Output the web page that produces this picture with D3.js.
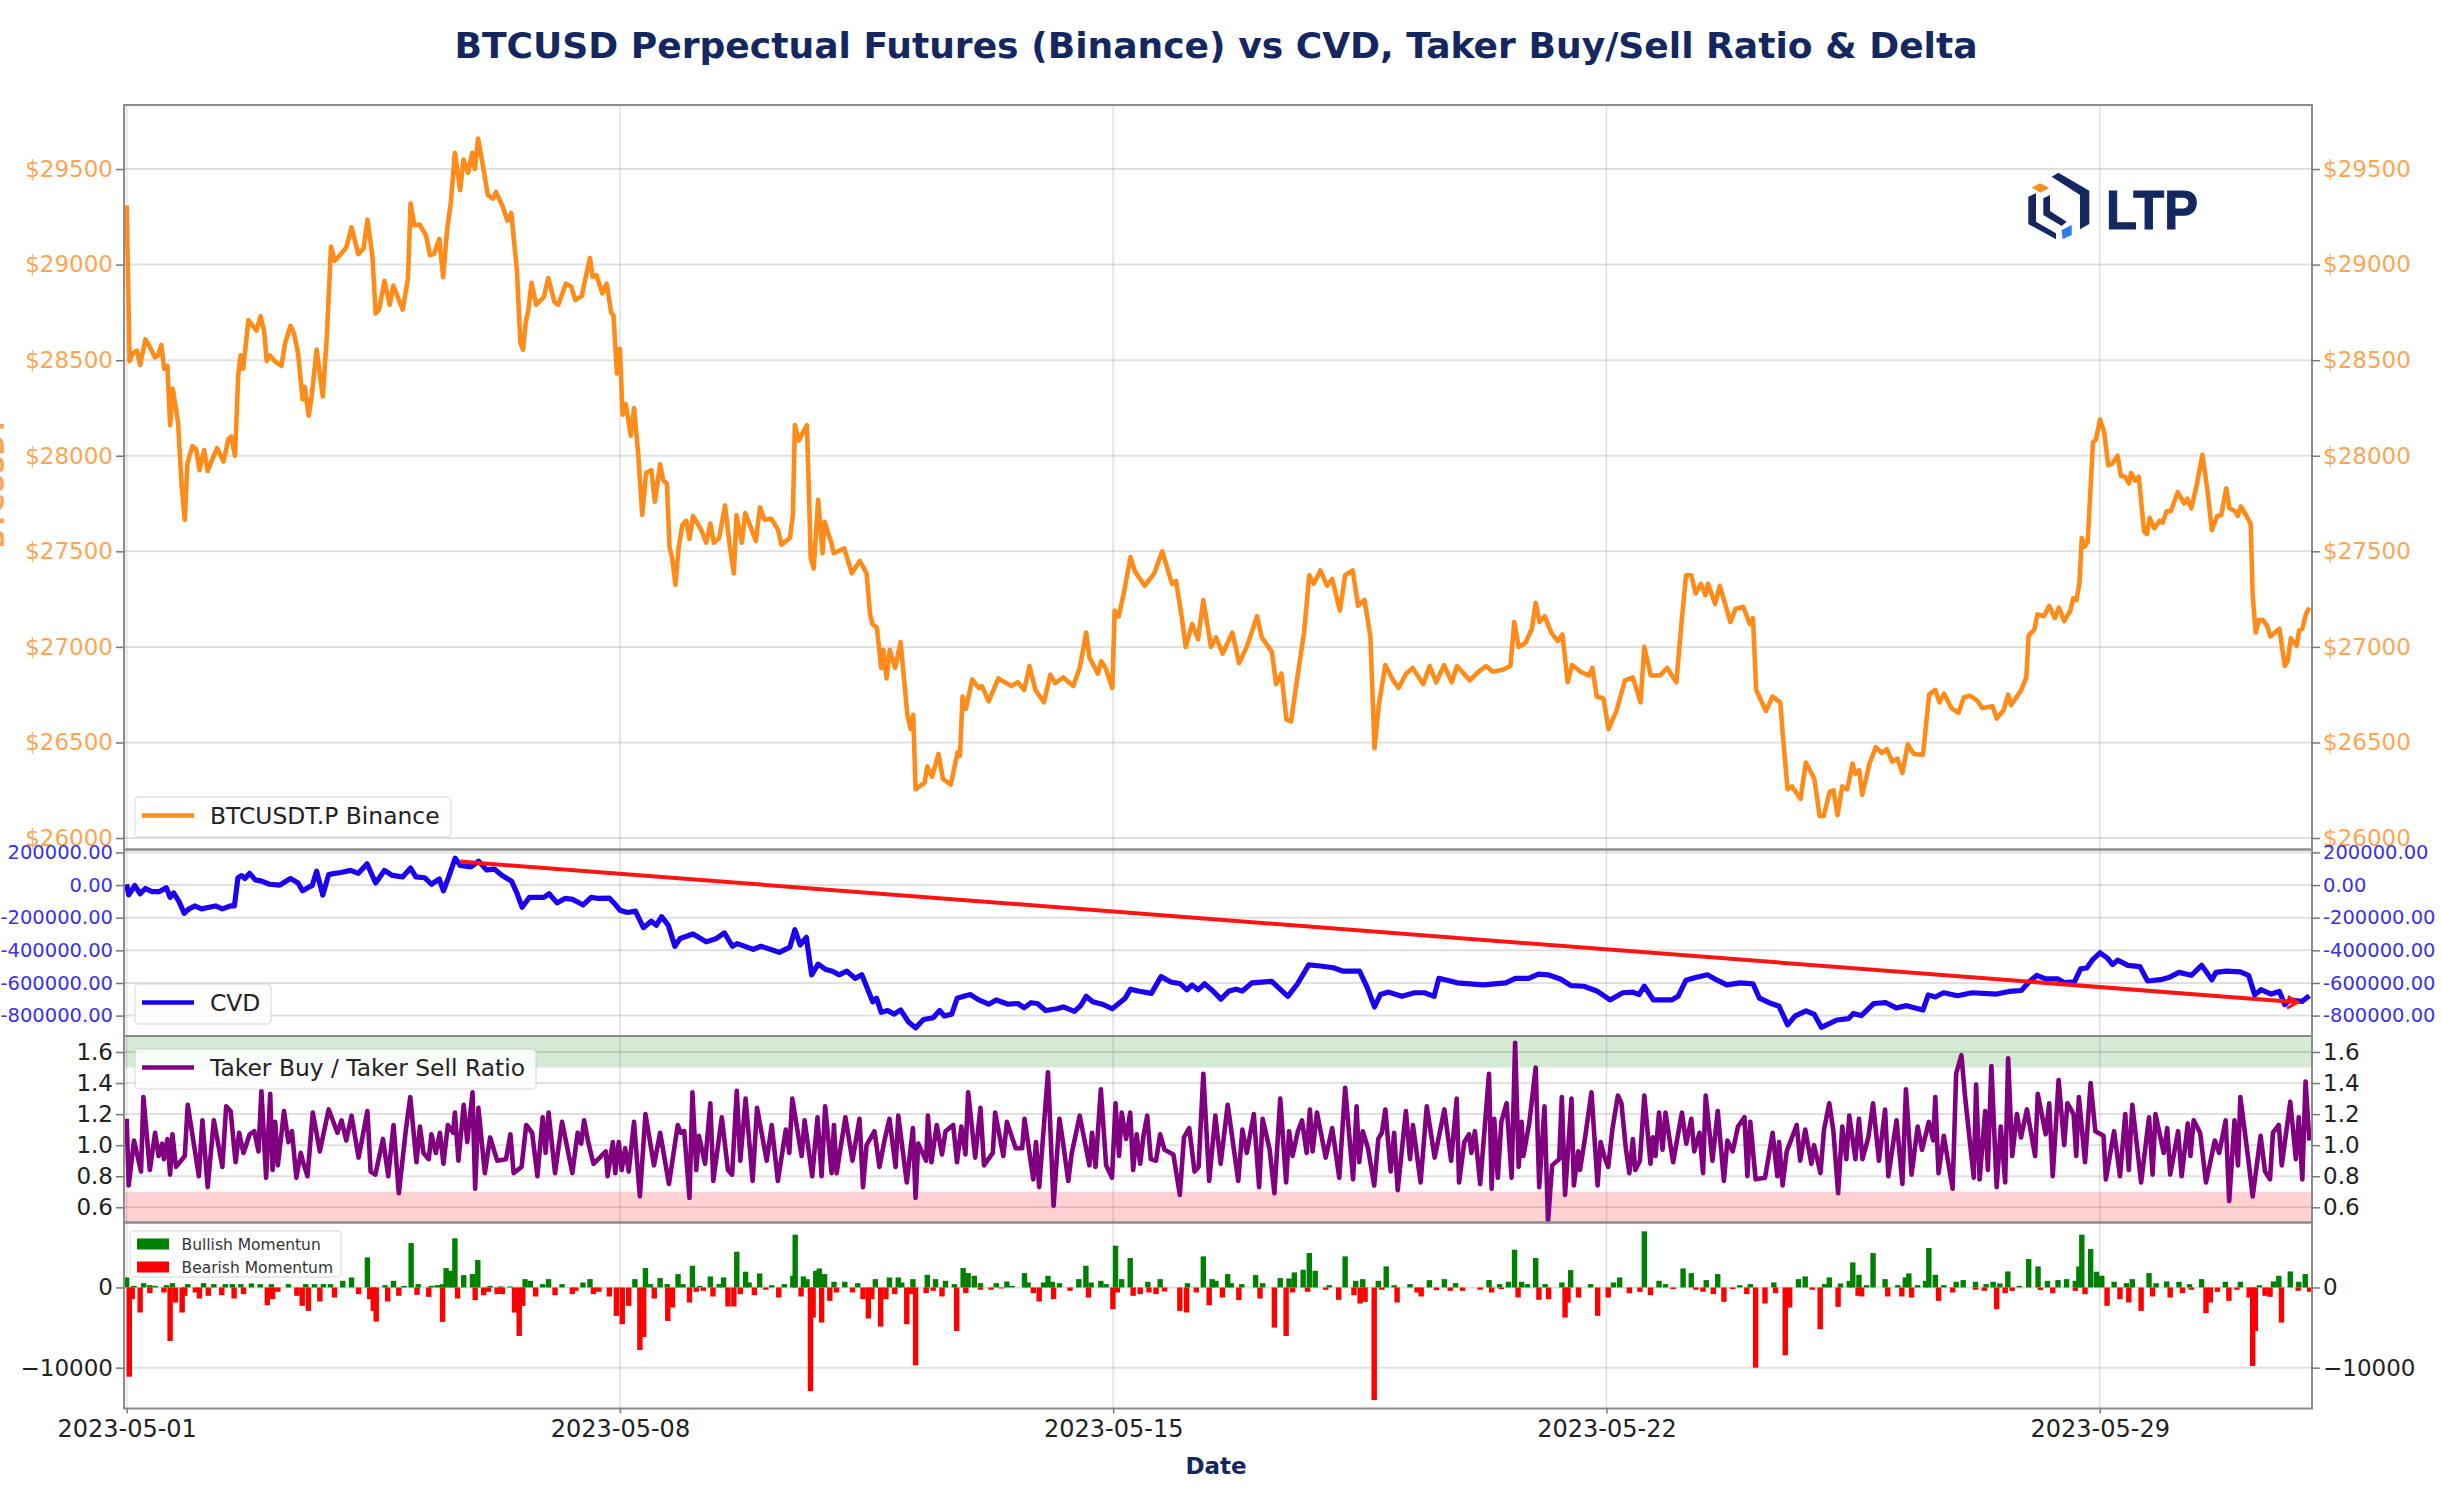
<!DOCTYPE html>
<html>
<head>
<meta charset="utf-8">
<script src="https://cdn.jsdelivr.net/npm/d3@7"></script>
<style>
  html, body { margin: 0; padding: 0; background: #fff; }
  svg { display: block; font-family: "DejaVu Sans", sans-serif; }
</style>
</head>
<body>
<svg id="chart" width="2442" height="1512"></svg>
<script>
// -------------------- Data --------------------
// every reading is [hours since 2023-05-01 00:00, value]
const priceReadings = [
  [0,29310],[1,28495],[2,28535],[3.5,28550],[4.6,28475],[6.4,28610],[8.2,28560],[9.6,28515],[10.7,28525],[11.8,28580],
  [12.8,28455],[13.9,28470],[14.8,28160],[15.7,28350],[17.5,28175],[18.7,27850],[19.8,27665],[20.7,27960],[22.4,28050],[23.7,28035],
  [24.8,27925],[26.4,28030],[27.6,27920],[29,27975],[30.8,28040],[33,27970],[34.6,28085],[35.6,28100],[36.9,28000],[38,28420],
  [38.8,28525],[39.7,28455],[41.5,28710],[44.2,28655],[45.6,28730],[46.8,28655],[47.7,28495],[48.8,28525],[50.4,28495],[52.7,28470],
  [54,28590],[55.8,28680],[57,28640],[58.4,28535],[59.9,28295],[60.7,28360],[62,28210],[63,28310],[64.7,28555],[66.8,28310],
  [68.2,28630],[69.6,29095],[70.9,29020],[72.7,29050],[74.8,29090],[76.6,29195],[78.9,29055],[80.7,29085],[82,29235],[83.7,29045],
  [84.8,28745],[86,28765],[87.8,28915],[89.6,28790],[90.8,28890],[94,28765],[95.8,28925],[96.7,29320],[98,29205],[99.8,29210],
  [102,29150],[103.3,29050],[104.7,29055],[106.5,29135],[107.8,28935],[109.2,29190],[110.4,29325],[111.8,29585],[113.6,29390],[114.7,29550],
  [116.3,29480],[117.7,29585],[118.6,29500],[119.7,29660],[121.7,29485],[123,29365],[124.7,29345],[125.8,29380],[127.9,29310],[129.7,29230],
  [131,29270],[132.9,28975],[134.1,28590],[135,28555],[135.9,28695],[136.8,28760],[137.9,28905],[139.5,28790],[142.1,28830],[143.6,28930],
  [145.7,28805],[147,28790],[149.6,28900],[151.4,28885],[152.8,28815],[155,28835],[156,28910],[157.8,29035],[158.7,28935],[160,28945],
  [162,28850],[163.5,28900],[165,28750],[165.8,28735],[167,28430],[168,28560],[168.9,28215],[170,28270],[171.7,28105],[172.8,28250],
  [174.2,28015],[175.6,27690],[176.9,27910],[178.7,27925],[179.9,27760],[181.7,27955],[182.8,27870],[184,27855],[184.9,27520],[185.8,27465],
  [186.9,27325],[188,27520],[189.3,27640],[190.6,27660],[191.7,27565],[192.9,27685],[195.6,27615],[197.4,27545],[198.8,27645],[200,27545],
  [201.8,27570],[203.8,27740],[205.4,27530],[206.8,27385],[207.7,27690],[209.5,27545],[210.7,27700],[214.3,27555],[215.7,27730],[217.3,27665],
  [219.6,27670],[221.8,27615],[223,27535],[225.9,27570],[226.9,27690],[227.6,28160],[228.9,28080],[231.7,28160],[233,27465],[234,27410],
  [235.5,27770],[237,27490],[237.7,27655],[240,27545],[240.8,27490],[244.4,27515],[247,27385],[249.7,27450],[252,27385],[253.2,27170],
  [254,27120],[255.5,27100],[257,26890],[257.7,26985],[258.8,26835],[259.9,26985],[261.7,26890],[263.6,27025],[265.9,26645],[267,26570],
  [267.9,26645],[268.7,26255],[271.8,26290],[272.7,26375],[274.3,26320],[276.5,26440],[278,26310],[280.7,26280],[283,26450],[283.8,26430],
  [284.7,26740],[285.8,26675],[288,26830],[290.2,26785],[291.3,26795],[293.6,26715],[296.9,26835],[301.3,26795],[303.5,26815],[305.7,26775],
  [307.5,26900],[309.5,26775],[312.4,26710],[314.6,26855],[316.2,26810],[319,26840],[322.4,26795],[324.6,26890],[326.8,27075],[327.9,26945],
  [330.8,26860],[331.9,26925],[333.4,26890],[335.7,26785],[336.5,27190],[337.9,27160],[339.6,27280],[341.9,27470],[343.4,27395],[346.7,27320],
  [350,27385],[352.7,27500],[354.5,27410],[356,27330],[357.4,27345],[359.4,27150],[360.7,27000],[362.9,27120],[364.9,27040],[366.7,27245],
  [369.3,27000],[371,27050],[373.3,26965],[376.6,27075],[378.9,26915],[381.5,27000],[385,27160],[386.6,27050],[390,26975],[391.5,26805],
  [393.3,26860],[395,26620],[396.6,26610],[398.1,26775],[401,27075],[402.8,27375],[404.3,27330],[406.6,27400],[408.8,27320],[410.6,27355],
  [413.2,27190],[415,27375],[417.6,27400],[419.4,27215],[421.6,27245],[423.6,27055],[425,26470],[426.5,26700],[428.7,26905],[431,26835],
  [433.2,26785],[435.8,26860],[438,26890],[441.6,26805],[443.8,26900],[446,26815],[448.7,26905],[451.3,26815],[453.1,26900],[457.5,26825],
  [459.7,26860],[463,26900],[465.3,26870],[468.6,26880],[471.3,26900],[472.6,27130],[474.1,27000],[476.4,27020],[478.6,27095],[479.9,27230],
  [481.2,27130],[483,27160],[485.2,27075],[487.4,27030],[489,27065],[490.8,26815],[492.3,26905],[495.2,26870],[498,26850],[499.2,26890],
  [500.7,26740],[503,26730],[504.7,26570],[507.4,26665],[510.3,26825],[513,26840],[515.6,26710],[516.9,27000],[519.1,26850],[522.2,26850],
  [524.7,26890],[527.8,26815],[529.5,27115],[531.1,27375],[532.9,27375],[534.4,27280],[536.2,27330],[537.7,27270],[538.6,27330],[541,27225],
  [542.6,27320],[546.2,27130],[548,27200],[550.6,27210],[552.8,27120],[553.9,27150],[555,26775],[558.3,26665],[560.6,26740],[563.2,26710],
  [564.3,26495],[565.7,26255],[567.2,26270],[570.1,26205],[571.9,26395],[574.8,26310],[576.6,26115],[578,26115],[580,26240],[581.3,26250],
  [582.7,26120],[584.3,26270],[586,26255],[587.8,26390],[588.7,26335],[590.1,26355],[591.1,26225],[593.6,26390],[595.7,26475],[597.8,26445],
  [599.5,26465],[601.3,26400],[603.1,26415],[604.8,26340],[606.6,26490],[608.7,26440],[611.8,26435],[613.9,26750],[616,26775],[617.4,26710],
  [619,26755],[621.5,26680],[623.9,26655],[625.7,26735],[627.8,26745],[630.2,26720],[632,26680],[635.5,26690],[636.9,26625],[639.3,26670],
  [640.8,26750],[641.8,26695],[645.3,26775],[647,26840],[647.8,27060],[649.7,27090],[650.8,27170],[653,27160],[654.8,27215],[656.7,27150],
  [658.1,27205],[659.9,27135],[662,27190],[663,27255],[664.1,27245],[665.1,27335],[665.9,27570],[666.9,27525],[667.9,27550],[669.7,28070],
  [670.7,28085],[672.1,28190],[673.5,28125],[674.9,27950],[676.3,27960],[678.1,28000],[679.2,27895],[680.6,27890],[682,27855],[682.7,27910],
  [684.1,27870],[685.3,27890],[687.1,27605],[688.1,27590],[689,27675],[690.6,27620],[692.4,27660],[693.4,27650],[694.8,27710],[696.2,27710],
  [698.6,27810],[700.8,27750],[701.8,27775],[703.2,27725],[705,27845],[707,28005],[708.8,27805],[710.2,27610],[712,27685],[713.4,27690],
  [715.1,27830],[716.2,27725],[718.1,27710],[719,27685],[720.1,27735],[721.8,27690],[723.4,27645],[724.1,27270],[725.1,27075],[726.2,27140],
  [727.6,27140],[729,27110],[730.1,27055],[733.2,27095],[735,26900],[736,26925],[737.1,27045],[739.1,27005],[739.9,27085],[741,27095],
  [742.3,27175],[743.4,27205]
];

// cumulative volume delta, in thousands
const cvdReadings = [
  [0,5],[0.7,-60],[2.8,-3],[4.6,-53],[6.4,-21],[8.6,-40],[11.2,-40],[13.5,-16],[14.8,-75],[16,-48],
  [17.8,-100],[19.6,-173],[21,-149],[23.2,-128],[25.5,-146],[28.1,-136],[30.3,-128],[32.6,-146],[35.3,-128],[36.7,-128],
  [37.9,45],[39.2,58],[40.3,40],[41.9,72],[43.8,32],[46,24],[48.6,5],[52.2,0],[55.8,40],[58.4,13],
  [59.9,-35],[62,-13],[63.2,-3],[64.7,85],[66.8,-61],[68.8,64],[70.9,72],[73,77],[76.2,90],[78.9,72],
  [81.9,130],[84.8,13],[87.8,90],[90.5,59],[94,50],[96.7,104],[98.5,50],[101.5,45],[103.8,5],[106.5,37],
  [107.9,-35],[109.7,50],[111.9,165],[113.6,120],[117.2,112],[119.9,146],[122.6,93],[125.2,98],[127.9,59],[131.1,24],
  [132.9,-48],[134.7,-136],[137.2,-75],[139.5,-75],[142.1,-75],[143.9,-53],[146.6,-109],[149.3,-82],[152,-88],[155.5,-122],
  [158.2,-75],[160.8,-82],[164.4,-80],[166.2,-114],[168,-154],[170.6,-168],[173.3,-160],[176,-261],[178.7,-221],[180.4,-247],
  [182.2,-194],[184.5,-247],[186.7,-375],[188.5,-327],[192.9,-300],[197.4,-348],[200.9,-327],[203.6,-293],[206.3,-375],[208,-359],
  [213.4,-394],[216,-375],[222.3,-412],[225.9,-380],[227.6,-274],[229.4,-367],[231.5,-320],[233.3,-550],[235.5,-485],[238.2,-518],
  [240.4,-528],[242.6,-550],[245.3,-528],[248.1,-572],[250.4,-550],[254.1,-715],[255.4,-693],[257,-780],[259.2,-769],[261.4,-791],
  [263.6,-765],[266.3,-839],[268.7,-875],[271.4,-824],[274.7,-813],[276.9,-769],[278.5,-802],[281,-791],[282.9,-693],[285.1,-682],
  [287.4,-671],[290.2,-704],[293.6,-730],[296.2,-704],[300.2,-730],[303.5,-726],[305.7,-752],[308,-721],[310.2,-726],[313,-769],
  [316.8,-758],[319,-747],[322.8,-774],[325,-737],[326.8,-682],[329,-715],[332.3,-730],[335.7,-758],[337.9,-726],[340.1,-693],
  [341.9,-638],[344.5,-649],[349,-664],[352.3,-561],[355.6,-594],[358.9,-605],[361.1,-642],[362.9,-612],[364.9,-642],[367.1,-605],
  [370,-649],[372.7,-699],[375.5,-649],[377.8,-638],[380,-649],[383.3,-599],[390,-590],[392.2,-627],[395.5,-682],[398.8,-605],
  [402.6,-489],[406.6,-496],[411,-507],[414.3,-528],[419.9,-528],[422.5,-627],[425,-747],[427,-671],[429.8,-656],[434.3,-682],
  [438.7,-660],[442,-660],[445.3,-682],[446.9,-572],[449.8,-583],[453.1,-599],[462,-612],[469.7,-599],[473,-572],[477.5,-572],
  [480.8,-546],[484.1,-550],[488.5,-577],[491.9,-616],[496.3,-620],[500.7,-649],[505.2,-704],[509.6,-660],[513,-656],[515.1,-671],
  [516.9,-620],[520,-704],[526.2,-704],[528.4,-682],[531.1,-583],[534,-568],[538.4,-550],[541.7,-583],[545,-612],[549.5,-599],
  [553.9,-605],[556.1,-693],[559.4,-721],[562.8,-743],[565.7,-857],[568.3,-802],[572,-771],[574.8,-793],[577.2,-872],[579.7,-851],
  [582.5,-827],[586.4,-819],[588.1,-787],[590.8,-800],[595,-726],[599.2,-721],[602.7,-753],[606.2,-739],[611.8,-766],[613.6,-673],
  [616,-686],[618.8,-660],[623.6,-678],[628.5,-660],[636.9,-668],[641.1,-652],[645.3,-646],[648,-593],[650.6,-553],[653.6,-575],
  [657.8,-575],[659.9,-598],[663.4,-593],[665.5,-513],[667.6,-508],[669.7,-455],[672.1,-415],[674.6,-447],[676.4,-487],[678.1,-460],
  [681.6,-492],[685.7,-500],[688.3,-588],[692.7,-580],[695.5,-567],[699,-535],[703.2,-553],[706.7,-492],[710.2,-580],[711.6,-535],
  [715.1,-527],[719.9,-532],[722.7,-553],[724.8,-673],[726.9,-641],[730.4,-668],[733.2,-652],[735,-732],[736.7,-705],[740.9,-713],
  [743.4,-678]
];

const trendLine = [[113.6,144],[739.5,-718]];

const ratioReadings = [
  [0,1.17],[0.7,0.74],[2.5,1.03],[4.9,0.83],[5.7,1.31],[7.9,0.84],[9.7,1.08],[10.9,0.93],[12.1,1.01],[12.7,0.91],
  [13.9,1.04],[14.8,0.81],[15.6,1.07],[16.8,0.86],[19.8,0.93],[20.8,1.26],[24.6,0.80],[25.8,1.16],[27.6,0.73],[29.7,1.16],
  [32.6,0.86],[33.9,1.25],[35.4,1.22],[37.1,0.89],[38.3,1.08],[39.8,0.95],[41.9,1.07],[43.5,1.09],[44.9,0.96],[45.9,1.35],
  [47.5,0.79],[48.9,1.33],[49.7,0.84],[50.6,1.15],[51.5,0.87],[53.6,1.22],[55.1,1.02],[56.3,1.09],[57.8,0.79],[59.3,0.95],
  [60.1,0.89],[61.6,0.80],[63.4,1.21],[65.8,0.96],[68.8,1.23],[71.8,1.08],[73.2,1.16],[74.8,1.03],[76.6,1.19],[79,0.92],
  [82,1.22],[83.1,0.83],[84.7,0.81],[87.3,1.04],[89.1,0.80],[90.9,1.13],[92.7,0.69],[95.1,1.10],[96.6,1.31],[98.7,0.89],
  [99.9,1.12],[101.1,0.95],[102.9,0.91],[103.8,1.07],[105.3,0.95],[106.7,1.08],[107.9,0.88],[109.4,1.13],[111.2,1.08],[111.8,1.21],
  [113,0.90],[114.8,1.26],[116,1.02],[117.8,1.34],[118.7,0.72],[119.8,1.24],[122,0.82],[123.8,1.05],[126.2,0.90],[129.2,0.91],
  [130.7,1.07],[131.8,0.82],[134.5,0.86],[136.1,1.13],[138.1,1.08],[139.9,0.80],[141.7,1.18],[142.7,0.95],[143.7,1.21],[145.9,0.82],
  [148.3,1.15],[151.8,0.82],[153.6,1.08],[154.8,1.01],[155.8,1.16],[157.2,1.02],[159,0.88],[163.2,0.96],[163.8,0.80],[165.6,1.02],
  [166.4,0.82],[167.6,1.02],[168.6,0.84],[169.8,0.98],[171,0.83],[172.8,1.15],[174.8,0.67],[176.7,1.20],[179.6,0.87],[181.7,1.08],
  [184.7,0.75],[187.7,1.13],[188.7,1.08],[189.9,1.09],[191.7,0.66],[192.7,1.34],[194,0.84],[194.9,1.06],[197,0.88],[198.8,1.27],
  [199.8,0.77],[202.7,1.18],[204.8,0.84],[206.2,0.81],[207.8,1.35],[209,0.90],[210.8,1.30],[213.2,0.77],[214.7,1.24],[218,0.90],
  [219.7,1.13],[221.8,0.77],[224.5,1.10],[225.7,0.95],[226.7,1.30],[229.9,0.93],[230.9,1.16],[233.5,0.80],[235.3,1.18],[236.7,0.80],
  [237.9,1.25],[240.1,0.82],[240.9,1.13],[241.8,0.82],[244.8,1.18],[247.2,0.90],[249.6,1.17],[250.8,0.73],[252,1.0],[254.7,1.09],
  [256.4,0.86],[258,1.02],[259.8,1.17],[261.9,0.86],[262.8,1.19],[265.7,0.76],[267.8,1.11],[268.7,0.66],[269.6,1.01],[272.3,0.90],
  [272.9,1.19],[274.1,0.89],[275.9,1.13],[277.7,0.94],[278.9,1.09],[281.5,1.13],[282.8,0.89],[284.3,1.12],[285.7,0.94],[286.6,1.34],
  [289,0.92],[290.8,1.24],[292,0.87],[295,0.95],[295.8,1.21],[298.6,0.93],[299.8,1.15],[302.8,0.98],[305,0.98],[305.8,1.17],
  [308.8,0.78],[309.7,1.02],[310.8,0.73],[313.8,1.47],[315.7,0.61],[317.7,1.17],[318.9,1.02],[320.7,0.77],[321.9,0.95],[324.6,1.19],
  [327.9,0.87],[328.8,1.08],[330,0.86],[331.8,1.36],[333.6,0.87],[335.6,0.79],[336.8,1.27],[338,0.93],[338.9,1.21],[340.4,1.04],
  [341.8,1.21],[342.8,0.84],[344,1.07],[345.2,0.88],[346.4,1.07],[347.6,1.19],[348.8,0.91],[350.6,0.90],[352,1.07],[353.5,0.97],
  [356.5,0.94],[358.7,0.68],[360.1,1.05],[361.9,1.11],[363.7,0.83],[365.1,0.86],[366.7,1.46],[368.7,0.77],[370.8,1.19],[372.6,0.88],
  [375,1.26],[378.6,0.77],[380,1.10],[381.5,0.95],[383.9,1.20],[385.7,0.73],[386.9,1.17],[389.3,0.97],[390.9,0.69],[392.9,1.30],
  [394.9,0.76],[395.9,1.09],[397.1,0.93],[398.9,1.09],[400.3,1.16],[401.9,0.95],[403,1.23],[403.9,0.96],[405.4,1.21],[408.4,0.92],
  [410.6,1.11],[413,0.79],[415,1.37],[417.7,0.78],[418.9,1.25],[419.8,0.89],[421,1.09],[422.8,0.98],[424.9,0.74],[426.3,1.04],
  [427.5,1.08],[428.7,1.23],[430.5,0.83],[431.7,1.08],[432.9,0.71],[435.7,1.22],[437.1,0.91],[438.1,1.13],[440.7,0.76],[442.8,1.25],
  [445.5,0.92],[448.8,1.23],[451.1,0.90],[453,1.30],[453.8,0.76],[455.6,1.02],[457.2,1.07],[458,0.95],[459.2,1.09],[461,0.75],
  [464,1.46],[464.9,0.72],[465.8,1.17],[467,0.79],[468.2,1.15],[470,1.27],[471.7,0.79],[472.9,1.66],[474.1,0.86],[475.1,1.15],
  [475.7,0.93],[477.7,1.14],[479.9,1.50],[481.1,0.73],[482.9,1.25],[484.1,0.51],[485.5,0.87],[487.9,0.91],[488.8,1.31],[489.9,0.68],
  [492.1,1.30],[492.9,0.74],[494.4,0.96],[495,0.84],[496.8,1.06],[498.9,1.34],[501,0.74],[502,1.02],[503.4,0.92],[504.6,0.86],
  [506,1.10],[507.9,1.32],[509.1,1.27],[510.6,0.98],[511.8,0.82],[513,1.04],[513.8,0.84],[515.4,0.90],[516.9,1.32],[519,0.88],
  [519.8,1.05],[520.7,0.93],[521.9,1.21],[523.1,0.97],[524.1,1.21],[526.7,0.89],[529.7,1.21],[531.2,1.01],[532.9,1.17],[533.9,0.96],
  [535.7,1.08],[536.9,0.82],[537.8,1.32],[540.1,0.90],[541.9,1.22],[544,0.77],[545.2,1.03],[547,0.96],[548.8,1.12],[551,1.18],
  [552,0.80],[553,1.15],[554.8,0.78],[558,0.79],[560.6,1.08],[562.2,0.80],[562.8,1.02],[564,0.74],[565.4,0.96],[568.8,1.13],
  [570,0.90],[571.7,1.10],[573.8,0.88],[574.7,1.0],[576.9,0.82],[578.1,1.10],[579.9,1.27],[581.3,1.09],[582.9,0.69],[584.3,1.12],
  [585.7,0.91],[586.7,1.19],[588.8,0.91],[590,1.17],[591.2,0.91],[593.2,1.05],[594.8,1.27],[596.8,0.90],[598.9,1.23],[600,0.80],
  [602.8,1.16],[604.8,0.75],[606,1.36],[607.9,0.81],[610,1.12],[611.5,0.97],[613.8,1.15],[615.3,1.03],[616,1.31],[617.1,0.82],
  [618.9,1.06],[621.9,0.72],[623.1,1.46],[624.9,1.58],[626.1,1.32],[629.1,0.79],[629.9,1.39],[631.1,0.78],[633,1.22],[633.9,0.84],
  [635.1,1.51],[636.9,0.73],[638.3,1.12],[639.8,0.76],[640.8,1.56],[642.2,0.93],[643.8,1.20],[645.2,1.05],[647.2,1.23],[650,0.93],
  [650.9,1.33],[653.6,1.07],[654.8,1.27],[656,0.80],[658,1.42],[659.9,1.0],[661,1.27],[663.1,1.2],[664,0.93],[664.9,1.31],
  [667,0.89],[668.9,1.40],[670.5,1.09],[673.3,1.06],[674.1,0.78],[676.9,1.09],[678.9,0.80],[680.7,1.20],[681.9,0.84],[683.1,1.26],
  [686.1,0.76],[688.8,1.18],[690,0.81],[691,1.20],[693.8,0.95],[695,1.11],[696,0.81],[698.7,1.09],[699.9,0.80],[702,1.14],
  [702.9,0.93],[704,1.16],[706.2,1.08],[708.2,0.76],[711.2,1.03],[712.7,0.95],[714.9,1.16],[716.1,0.64],[717.9,1.16],[719.1,0.87],
  [719.9,1.31],[722.6,0.91],[724.1,0.67],[726.8,1.06],[728.3,0.83],[730,0.78],[731,1.08],[733,1.13],[734,0.87],[736.9,1.28],
  [738.8,0.91],[739.8,1.18],[741,0.78],[742.1,1.41],[743.4,1.03]
];

const bullishBars = [
  [0,1250],[2.5,200],[5.8,540],[7.9,290],[9.7,200],[13.6,290],[15.6,540],[20.8,420],[26.2,540],[29.7,420],
  [33.6,420],[36,420],[38.9,420],[42.5,500],[45.5,420],[49.3,420],[55.1,420],[61,420],[64,420],[67,420],
  [69.4,420],[73.6,830],[76.6,1250],[82,3750],[88,290],[90.9,830],[94.5,200],[96.9,5540],[99.3,420],[103.8,200],
  [105.8,290],[107.6,420],[108.8,2420],[110.4,2080],[111.8,6130],[114.8,1540],[117.8,1670],[119.6,3420],[123.8,200],[127.4,125],
  [130.6,125],[135.7,1040],[137.5,830],[141.7,420],[143.7,1040],[148.3,420],[155.4,625],[157.8,1040],[173.1,1040],[176.7,2420],
  [178.4,420],[181.7,1170],[184.1,420],[187.8,1670],[189.5,420],[192.7,2710],[195.2,200],[198.8,1375],[201.8,420],[203.3,1250],
  [207.8,4460],[210.8,1960],[212,625],[215.6,1750],[219.7,290],[224,420],[226.9,1460],[227.7,6580],[230.5,1375],[231.7,1040],
  [234.7,2080],[235.9,2375],[237.7,1670],[240.9,710],[244.6,710],[249,540],[255,1040],[259.8,1250],[262.8,1250],[264,625],
  [267.8,1040],[272.7,1580],[275.5,1040],[278.9,830],[281.9,420],[284.9,2420],[286.6,1790],[288.7,1460],[290.8,540],[296.2,540],
  [299.8,750],[301.6,200],[305.8,1790],[307,625],[312.3,625],[313.8,1460],[315.3,710],[317.7,540],[324.3,1040],[326.7,2710],
  [328.5,625],[331.8,830],[333.6,420],[336.8,5210],[338.9,1040],[341.8,3670],[347.8,710],[352,1040],[361.3,540],[366.7,3875],
  [369.7,1040],[371,830],[375,1670],[376.2,540],[379.8,420],[384.5,1540],[386.9,540],[392.9,1170],[395.9,1125],[397.7,1875],
  [400.7,2210],[402.8,4290],[404.8,2080],[409.6,290],[415,3875],[418.6,830],[421,1040],[426.3,830],[429,2625],[431.7,290],
  [437.1,420],[443.7,920],[448.8,1040],[452.6,540],[464,920],[467.6,420],[470.6,710],[472.7,4710],[475.1,710],[477.1,420],
  [479.9,3670],[483.1,420],[488.8,625],[491.8,2170],[498.6,420],[506.4,625],[508.5,1250],[516.9,7000],[521.9,830],[524.1,420],
  [530.1,2375],[532.9,1790],[538,920],[541.9,1670],[549.4,290],[553,420],[561,625],[569.4,1040],[571.7,1375],[578.3,420],
  [579.9,1250],[583.7,500],[586.7,830],[587.9,3125],[590,1580],[592.6,290],[594.8,4290],[598.9,1040],[603.2,290],[605.8,1250],
  [607,1750],[610,290],[612.7,830],[613.8,4920],[616,1580],[618.9,290],[623.1,710],[625.5,920],[629.7,710],[633.3,420],
  [635.7,710],[638,500],[640.7,2000],[644.6,200],[647.8,3540],[651,2625],[654.2,830],[657.8,920],[660.7,1040],[663.7,830],
  [664.9,2625],[665.9,6580],[668.9,4790],[670.9,1960],[672.7,1460],[676.9,710],[681.1,540],[683.1,1040],[688.8,1790],[691.2,540],
  [694.8,750],[699,710],[702.6,420],[706.7,1040],[714.8,710],[719.9,710],[726.4,290],[731.2,750],[733,1460],[736.9,2000],
  [739.8,710],[742,1670]
];

const bearishBars = [
  [0.9,-11125],[1.9,-1460],[4.6,-3125],[7.9,-710],[12.7,-625],[14.8,-6670],[16.6,-1875],[18.9,-3125],[19.8,-1040],[23.4,-625],
  [24.8,-1375],[27.8,-1040],[32.4,-960],[36.6,-1375],[39.8,-830],[47.9,-2210],[49.7,-1460],[51.5,-540],[58,-1040],[59.8,-2290],
  [61.9,-2920],[65.8,-1750],[70.8,-1250],[79,-830],[82.8,-1460],[84,-2920],[85,-4250],[88.9,-1750],[92.7,-1040],[98.9,-920],
  [102.9,-1170],[107.6,-4290],[112.7,-1375],[118.7,-1580],[121.6,-960],[123.2,-540],[126.2,-830],[128,-830],[132.1,-3125],[133.7,-6040],
  [134.9,-2290],[139.3,-1125],[145.9,-960],[151.8,-830],[153,-420],[159,-830],[160.8,-540],[164.4,-1125],[166.8,-3540],[168.8,-4580],
  [171,-2290],[174.8,-7790],[176.1,-6170],[179.7,-1375],[184.3,-4170],[185.9,-2500],[191.7,-1875],[194,-540],[196.4,-420],[199.7,-1125],
  [204.8,-2375],[206.8,-2375],[209,-830],[213.8,-960],[217.7,-290],[222.1,-1250],[229.7,-1125],[232.9,-12920],[233.8,-3750],[236.7,-4375],
  [239.5,-1670],[241.8,-625],[247.2,-625],[250.8,-1460],[252.6,-3875],[253.8,-1460],[256.8,-4875],[258.6,-1460],[261.6,-830],[265.7,-4580],
  [266.9,-830],[268.7,-9710],[272.3,-710],[274.7,-420],[277.7,-1125],[282.7,-5420],[285.8,-710],[290.8,-290],[294.4,-290],[298,-125],
  [308.8,-710],[310.8,-1750],[315.7,-1460],[321.3,-420],[327.6,-1250],[335.9,-2710],[337.4,-625],[342.8,-1040],[345.2,-830],[348.2,-625],
  [350.6,-830],[353.5,-500],[358.7,-2920],[361,-3125],[364.3,-625],[368.7,-2210],[373.2,-1250],[378.8,-1580],[386,-1375],[390.9,-5000],
  [394.9,-6040],[397.1,-625],[402.2,-540],[408.4,-290],[412.8,-1540],[418,-960],[420.1,-2000],[421.8,-1790],[424.9,-14040],[427.5,-290],
  [432.7,-1875],[439.5,-625],[440.9,-1125],[446.1,-330],[450.8,-420],[455,-420],[461,-290],[464.9,-625],[468.2,-210],[473.9,-1250],
  [481,-1540],[484.3,-1460],[489.9,-3750],[490.9,-1875],[494.5,-1250],[501,-3540],[504.6,-1250],[511.8,-710],[515.4,-540],[519,-960],
  [526.7,-210],[534.5,-290],[536.9,-540],[540.4,-830],[544,-1790],[547,-210],[551.8,-830],[554.8,-10000],[558,-2000],[561.6,-710],
  [564.9,-8460],[566.4,-2500],[574.1,-290],[576.8,-5210],[582.9,-2420],[589.7,-1040],[590.9,-1125],[599.8,-1125],[604.6,-1125],[607.9,-1250],
  [617.1,-1670],[621.9,-625],[629.7,-290],[632.7,-420],[636.9,-2710],[639.8,-710],[642.2,-420],[651.8,-330],[656,-710],[663.7,-420],
  [667,-830],[674.5,-2290],[678.9,-1460],[681.9,-1875],[686.1,-2920],[690,-1125],[696,-1250],[700.2,-710],[703.2,-290],[708.2,-3210],
  [709.7,-1875],[712.1,-540],[716,-1670],[718.7,-290],[722.9,-1250],[724.1,-9790],[725,-5420],[728.3,-1040],[730,-1170],[733.9,-4375],
  [739.6,-420],[743.5,-540]
];

const dateTicks = ["2023-05-01", "2023-05-08", "2023-05-15", "2023-05-22", "2023-05-29"];
const priceTicks = [26000, 26500, 27000, 27500, 28000, 28500, 29000, 29500];
const cvdTicks = [-800000, -600000, -400000, -200000, 0, 200000];
const ratioTicks = [0.6, 0.8, 1.0, 1.2, 1.4, 1.6];
const deltaTicks = [-10000, 0];
const ratioBands = [[1.5, 1.7, "rgba(0,128,0,0.17)"], [0.5, 0.7, "rgba(255,0,0,0.18)"]];

const titleText = "BTCUSD Perpectual Futures (Binance) vs CVD, Taker Buy/Sell Ratio & Delta";
const navy = "#14285f";
const orange = "#ff8c1a";

// -------------------- Layout --------------------
const svg = d3.select("#chart");
const left = 124, right = 2312;
const startTime = Date.UTC(2023, 4, 1);
const toDate = h => new Date(startTime + h * 3600000);
const x = d3.scaleUtc().domain([toDate(-0.9), toDate(744.3)]).range([left, right]);

const yPrice = d3.scaleLinear().domain([25940, 29835]).range([849.5, 105]);
const yCvd = d3.scaleLinear().domain([-925000, 218000]).range([1036, 849.5]);
const yRatio = d3.scaleLinear().domain([0.502, 1.703]).range([1222.5, 1036]);
const yDelta = d3.scaleLinear().domain([-15090, 8100]).range([1408.5, 1222.5]);

const panels = [
  { y: yPrice, ticks: priceTicks, fmt: d => "$" + d, color: "#ffa552", size: 23 },
  { y: yCvd, ticks: cvdTicks, fmt: d => d.toFixed(2), color: "#3a30ee", size: 19.5 },
  { y: yRatio, ticks: ratioTicks, fmt: d => d.toFixed(1), color: "#222", size: 23 },
  { y: yDelta, ticks: deltaTicks, fmt: d => d === 0 ? "0" : "\u2212" + Math.abs(d), color: "#222", size: 23 }
];

// -------------------- Ratio bands --------------------
ratioBands.forEach(b => {
  svg.append("rect")
    .attr("x", left).attr("width", right - left)
    .attr("y", yRatio(b[1])).attr("height", yRatio(b[0]) - yRatio(b[1]))
    .attr("fill", b[2]);
});

// -------------------- Grid --------------------
const grid = svg.append("g");
panels.forEach(p => {
  grid.selectAll(null).data(p.ticks).join("line")
    .attr("x1", left).attr("x2", right)
    .attr("y1", d => p.y(d)).attr("y2", d => p.y(d))
    .attr("stroke", "rgba(0,0,0,0.12)").attr("stroke-width", 2);
});
grid.selectAll(null).data(dateTicks).join("line")
  .attr("x1", d => x(new Date(d))).attr("x2", d => x(new Date(d)))
  .attr("y1", 105).attr("y2", 1408.5)
  .attr("stroke", "rgba(60,60,80,0.16)").attr("stroke-width", 1.5);

// -------------------- Logo --------------------
const logo = svg.append("g").attr("transform", "translate(2000,150) scale(0.3333)");
const logoNavy = [
  [[155,80],[175,68],[268,122],[268,222],[240,238],[240,135]],
  [[85,140],[108,130],[108,215],[168,250],[168,268],[85,222]],
  [[130,145],[150,135],[150,183],[200,215],[185,228],[130,195]]
];
logoNavy.forEach(p => logo.append("polygon").attr("points", p.join(" ")).attr("fill", navy));
logo.append("polygon").attr("points", [[95,113],[120,100],[148,113],[122,128]].join(" ")).attr("fill", "#fb8c1e");
logo.append("polygon").attr("points", [[185,240],[215,225],[215,255],[188,268]].join(" ")).attr("fill", "#2f7bf0");
svg.append("text")
  .attr("x", 2106).attr("y", 229)
  .attr("font-family", "Liberation Sans").attr("font-weight", "bold")
  .attr("font-size", 56).attr("fill", navy)
  .attr("stroke", navy).attr("stroke-width", 1.2)
  .attr("textLength", 92).attr("lengthAdjust", "spacingAndGlyphs")
  .text("LTP");

// -------------------- Marks --------------------
const byHour = (a, b) => a[0] - b[0];
function drawLine(readings, yScale, color, width, scale) {
  const line = d3.line()
    .x(d => x(toDate(d[0])))
    .y(d => yScale(d[1] * (scale || 1)));
  svg.append("path")
    .attr("d", line(readings.slice().sort(byHour)))
    .attr("fill", "none")
    .attr("stroke", color)
    .attr("stroke-width", width)
    .attr("stroke-linejoin", "round");
}
drawLine(priceReadings, yPrice, orange, 4.6);
drawLine(cvdReadings, yCvd, "#1c00f0", 5.2, 1000);
drawLine(ratioReadings, yRatio, "#800080", 4.6);

// bars keep the pen width of the hand-read slots
const barWidth = 5.4;
[[bullishBars, "#008000"], [bearishBars, "#ff0000"]].forEach(([bars, color]) => {
  svg.append("g").selectAll("rect").data(bars).join("rect")
    .attr("x", d => x(toDate(d[0])) - barWidth / 2)
    .attr("width", barWidth)
    .attr("y", d => Math.min(yDelta(d[1]), yDelta(0)))
    .attr("height", d => Math.abs(yDelta(d[1]) - yDelta(0)))
    .attr("fill", color);
});

// -------------------- Trend arrow on CVD --------------------
drawLine(trendLine, yCvd, "#ff1414", 4, 1000);
const tipX = x(toDate(trendLine[1][0])), tipY = yCvd(trendLine[1][1] * 1000);
svg.append("path")
  .attr("d", `M${tipX - 10},${tipY - 6}L${tipX},${tipY}L${tipX - 11},${tipY + 6}`)
  .attr("fill", "none").attr("stroke", "#ff1414").attr("stroke-width", 3);

// -------------------- Spines --------------------
panels.forEach(p => {
  const [bottom, top] = p.y.range();
  svg.append("rect")
    .attr("x", left).attr("y", top)
    .attr("width", right - left).attr("height", bottom - top)
    .attr("fill", "none").attr("stroke", "#8c8c8c").attr("stroke-width", 2);
});

// -------------------- Axes --------------------
function styleAxis(g, p) {
  g.select(".domain").remove();
  g.selectAll("line").attr("stroke", "#777").attr("stroke-width", 1.5);
  g.selectAll("text").attr("fill", p.color).attr("font-size", p.size).attr("font-family", "DejaVu Sans");
}
panels.forEach(p => {
  svg.append("g").attr("transform", `translate(${left},0)`)
    .call(d3.axisLeft(p.y).tickValues(p.ticks).tickFormat(p.fmt).tickSize(8).tickPadding(3))
    .call(styleAxis, p);
  svg.append("g").attr("transform", `translate(${right},0)`)
    .call(d3.axisRight(p.y).tickValues(p.ticks).tickFormat(p.fmt).tickSize(8).tickPadding(3))
    .call(styleAxis, p);
});
const xAxis = svg.append("g").attr("transform", "translate(0,1408.5)")
  .call(d3.axisBottom(x).tickValues(dateTicks.map(d => new Date(d))).tickFormat(d3.utcFormat("%Y-%m-%d")).tickSize(5).tickPadding(6));
xAxis.select(".domain").remove();
xAxis.selectAll("line").attr("stroke", "#777").attr("stroke-width", 1.5);
xAxis.selectAll("text").attr("fill", "#222").attr("font-size", 24).attr("font-family", "DejaVu Sans");

// -------------------- Legends --------------------
function legendBox(bx, by, w, h) {
  svg.append("rect")
    .attr("x", bx).attr("y", by).attr("width", w).attr("height", h).attr("rx", 4)
    .attr("fill", "rgba(255,255,255,0.82)")
    .attr("stroke", "rgba(200,200,200,0.5)").attr("stroke-width", 1.5);
}
function lineLegend(by, w, color, label) {
  legendBox(135, by, w, 40);
  svg.append("line")
    .attr("x1", 142).attr("x2", 194).attr("y1", by + 18.5).attr("y2", by + 18.5)
    .attr("stroke", color).attr("stroke-width", 4.4);
  svg.append("text")
    .attr("x", 210).attr("y", by + 27)
    .attr("font-size", 23.4).attr("fill", "#222")
    .text(label);
}
lineLegend(797, 316, orange, "BTCUSDT.P Binance");
lineLegend(984, 136, "#1c00f0", "CVD");
lineLegend(1049, 401, "#800080", "Taker Buy / Taker Sell Ratio");

legendBox(130, 1231, 211, 46);
[["Bullish Momentun", "#008000", 1238.5], ["Bearish Momentum", "#ff0000", 1261.5]].forEach(([label, color, ly]) => {
  svg.append("rect").attr("x", 137).attr("y", ly).attr("width", 32).attr("height", 11).attr("fill", color);
  svg.append("text").attr("x", 181.5).attr("y", ly + 11).attr("font-size", 15.5).attr("fill", "#333").text(label);
});

// -------------------- Titles --------------------
svg.append("text")
  .attr("x", 1216).attr("y", 58)
  .attr("text-anchor", "middle")
  .attr("font-size", 36.1).attr("font-weight", "bold").attr("fill", navy)
  .text(titleText);
svg.append("text")
  .attr("x", 1216).attr("y", 1474)
  .attr("text-anchor", "middle")
  .attr("font-size", 23).attr("font-weight", "bold").attr("fill", navy)
  .text("Date");
// left label is cut by the page edge in the original
svg.append("text")
  .attr("transform", "translate(4,483) rotate(-90)")
  .attr("text-anchor", "middle")
  .attr("font-size", 25).attr("font-weight", "bold").attr("fill", "#ffa552")
  .text("BTCUSDT");
</script>
</body>
</html>
